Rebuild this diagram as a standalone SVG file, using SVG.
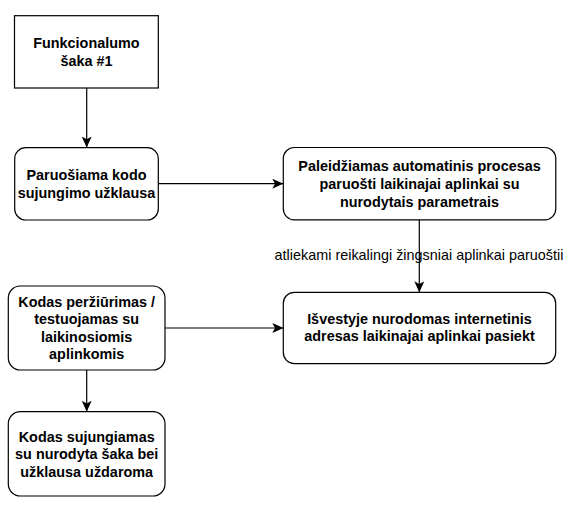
<svg xmlns="http://www.w3.org/2000/svg" width="585" height="508" viewBox="0 0 585 508">
<style>
.box{fill:#fff;stroke:#000;stroke-width:1.2}
.t{font-family:"Liberation Sans",Arial,sans-serif;font-size:14.4px;font-weight:bold;fill:#000;text-anchor:middle}
.lbl{font-family:"Liberation Sans",Arial,sans-serif;font-size:14.4px;fill:#000;text-anchor:middle}
.c{fill:none;stroke:#000;stroke-width:1.2}
</style>
<defs>
<marker id="arr" markerUnits="userSpaceOnUse" viewBox="0 0 11 10" refX="11" refY="5" markerWidth="11" markerHeight="10" orient="auto">
<path d="M0,0 L11,5 L0,10 L2.7,5 Z" fill="#000"/>
</marker>
</defs>
<rect width="585" height="508" fill="#fff"/>
<g id="connectors">
<path class="c" d="M86.7,88 L86.7,147.5" marker-end="url(#arr)"/>
<path class="c" d="M158.3,183.7 L283.3,183.7" marker-end="url(#arr)"/>
<path class="c" d="M419.3,219.8 L419.3,292.3" marker-end="url(#arr)"/>
<path class="c" d="M165,328 L283.3,328" marker-end="url(#arr)"/>
<path class="c" d="M86.7,370 L86.7,411.7" marker-end="url(#arr)"/>
<text class="lbl" x="419" y="260">atliekami reikalingi žingsniai aplinkai paruoštii</text>
</g>
<g id="n1">
<rect class="box" x="14.5" y="15.7" width="143.8" height="72.3"/>
<text class="t" x="86.4" y="48.2">Funkcionalumo</text>
<text class="t" x="86.4" y="65.7">šaka #1</text>
</g>
<g id="n2">
<rect class="box" x="14.7" y="147.7" width="143.6" height="72.3" rx="11" ry="11"/>
<text class="t" x="86.5" y="180">Paruošiama kodo</text>
<text class="t" x="86.5" y="197.5">sujungimo užklausa</text>
</g>
<g id="n3">
<rect class="box" x="283.3" y="147.5" width="272.5" height="72.3" rx="11" ry="11"/>
<text class="t" x="419.5" y="171.3">Paleidžiamas automatinis procesas</text>
<text class="t" x="419.5" y="188.9">paruošti laikinajai aplinkai su</text>
<text class="t" x="419.5" y="206.5">nurodytais parametrais</text>
</g>
<g id="n4">
<rect class="box" x="283.3" y="292.3" width="272.4" height="71.3" rx="11" ry="11"/>
<text class="t" x="419.5" y="323.5">Išvestyje nurodomas internetinis</text>
<text class="t" x="419.5" y="341">adresas laikinajai aplinkai pasiekt</text>
</g>
<g id="n5">
<rect class="box" x="8.3" y="286" width="156.7" height="84" rx="12" ry="12"/>
<text class="t" x="86.7" y="306.8">Kodas peržiūrimas /</text>
<text class="t" x="86.7" y="324.3">testuojamas su</text>
<text class="t" x="86.7" y="341.8">laikinosiomis</text>
<text class="t" x="86.7" y="359.3">aplinkomis</text>
</g>
<g id="n6">
<rect class="box" x="8.3" y="411.7" width="156.7" height="84.3" rx="12" ry="12"/>
<text class="t" x="86.7" y="441.5">Kodas sujungiamas</text>
<text class="t" x="86.7" y="459">su nurodyta šaka bei</text>
<text class="t" x="86.7" y="476.5">užklausa uždaroma</text>
</g>
</svg>
